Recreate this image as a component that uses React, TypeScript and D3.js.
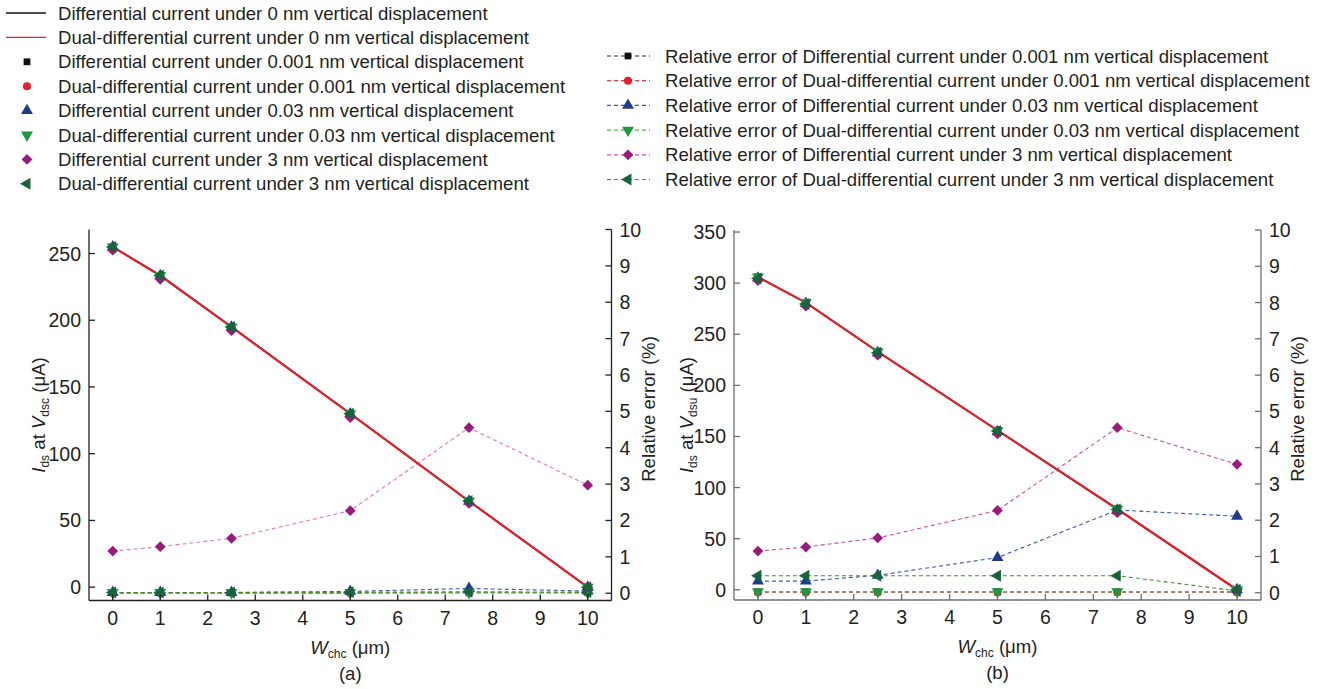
import React from 'react';
import * as d3 from 'd3';

// Channel widths (µm) at which the devices were simulated
const widths = [0, 1, 2.5, 5, 7.5, 10];
const xTickValues = [0, 1, 2, 3, 4, 5, 6, 7, 8, 9, 10];
const errorTicks = [0, 1, 2, 3, 4, 5, 6, 7, 8, 9, 10];
const currentTicksA = [0, 50, 100, 150, 200, 250];
const currentTicksB = [0, 50, 100, 150, 200, 250, 300, 350];

// (a) currents at Vdsc (µA)
const diffA0 = [255, 233.5, 195, 130, 64.5, 0];
const dualA0 = [255, 233.5, 195, 130, 64.5, 0];
const diffA001 = [255, 233.5, 195, 130, 64.5, 0];
const dualA001 = [255, 233.5, 195, 130, 64.5, 0];
const diffA003 = [254.9, 233.4, 194.9, 129.9, 64.4, 0];
const dualA003 = [255, 233.5, 195, 130, 64.5, 0];
const diffA3 = [252.5, 230.7, 192.2, 127.1, 62.7, 0];
const dualA3 = [254.9, 233.5, 195, 130, 64.5, 0];

// (a) relative errors (%)
const errDiffA001 = [0.01, 0.01, 0.01, 0.01, 0.02, 0.02];
const errDualA001 = [0.01, 0.01, 0.01, 0.01, 0.01, 0.01];
const errDiffA003 = [0.02, 0.02, 0.02, 0.05, 0.13, 0.06];
const errDualA003 = [0.02, 0.02, 0.02, 0.02, 0.02, 0.02];
const errDiffA3 = [1.16, 1.28, 1.51, 2.27, 4.55, 2.97];
const errDualA3 = [0.02, 0.02, 0.02, 0.03, 0.04, 0.03];

// (b) currents at Vdsu (µA)
const diffB0 = [306, 281, 233, 156, 79, 0];
const dualB0 = [306, 281, 233, 156, 79, 0];
const diffB001 = [306, 281, 233, 156, 79, 0];
const dualB001 = [306, 281, 233, 156, 79, 0];
const diffB003 = [305, 280.1, 231.9, 154.5, 77.2, 0];
const dualB003 = [306, 281, 233, 156, 79, 0];
const diffB3 = [302.5, 277.5, 229.5, 152.5, 75.4, 0];
const dualB3 = [304.6, 279.7, 231.9, 155.3, 78.6, 0];

// (b) relative errors (%)
const errDiffB001 = [0.02, 0.02, 0.02, 0.02, 0.02, 0.02];
const errDualB001 = [0.02, 0.02, 0.02, 0.02, 0.02, 0.02];
const errDiffB003 = [0.32, 0.32, 0.48, 0.97, 2.28, 2.11];
const errDualB003 = [0.03, 0.03, 0.03, 0.03, 0.03, 0.03];
const errDiffB3 = [1.15, 1.26, 1.51, 2.27, 4.55, 3.54];
const errDualB3 = [0.47, 0.47, 0.47, 0.47, 0.47, 0.05];

const legendCurrents = [
  'Differential current under 0 nm vertical displacement',
  'Dual-differential current under 0 nm vertical displacement',
  'Differential current under 0.001 nm vertical displacement',
  'Dual-differential current under 0.001 nm vertical displacement',
  'Differential current under 0.03 nm vertical displacement',
  'Dual-differential current under 0.03 nm vertical displacement',
  'Differential current under 3 nm vertical displacement',
  'Dual-differential current under 3 nm vertical displacement',
];
const legendErrors = [
  'Relative error of Differential current under 0.001 nm vertical displacement',
  'Relative error of Dual-differential current under 0.001 nm vertical displacement',
  'Relative error of Differential current under 0.03 nm vertical displacement',
  'Relative error of Dual-differential current under 0.03 nm vertical displacement',
  'Relative error of Differential current under 3 nm vertical displacement',
  'Relative error of Dual-differential current under 3 nm vertical displacement',
];

type Kind = 'square' | 'circle' | 'up' | 'down' | 'diamond' | 'left';

const markerKinds: Kind[] = ['square', 'circle', 'up', 'down', 'diamond', 'left'];
const markerFill = ['#111111', '#e5202b', '#1f3c8c', '#1c9a3f', '#9a1a7c', '#17643a'];
const dashStroke = ['#2b2b2b', '#ea3a4c', '#3a5aa6', '#55b84a', '#d24d9d', '#4c8c2c'];
const FONT = '"Liberation Sans", Arial, Helvetica, sans-serif';
const TEXT = '#231f20';
const LABEL_SIZE = 18.6;
const TICK_SIZE = 19.5;

function markerPath(kind: Kind): string {
  switch (kind) {
    case 'square':
      return d3.symbol().type(d3.symbolSquare).size(46)() as string;
    case 'circle':
      return d3.symbol().type(d3.symbolCircle).size(52)() as string;
    case 'diamond':
      return d3.symbol().type(d3.symbolSquare).size(58)() as string;
    default:
      return d3.symbol().type(d3.symbolTriangle).size(62)() as string;
  }
}

function markerRotation(kind: Kind): number {
  if (kind === 'down') return 180;
  if (kind === 'left') return -90;
  if (kind === 'diamond') return 45;
  return 0;
}

function Marker({ kind, x, y, fill }: { kind: Kind; x: number; y: number; fill: string }) {
  return (
    <path
      d={markerPath(kind)}
      transform={`translate(${x},${y}) rotate(${markerRotation(kind)})`}
      fill={fill}
    />
  );
}

interface PanelProps {
  left: number;
  right: number;
  top: number;
  bottom: number;
  currentDomain: [number, number];
  currentTicks: number[];
  axisColor: string;
  lineDiff: number[];
  lineDual: number[];
  currents: number[][];
  errors: number[][];
  subscript: string;
  caption: string;
  leftTitleX: number;
  rightTitleX: number;
  pinkColor: string;
}

function Panel(p: PanelProps) {
  const x = d3.scaleLinear().domain([-0.5, 10.5]).range([p.left, p.right]);
  const yL = d3.scaleLinear().domain(p.currentDomain).range([p.bottom, p.top]);
  const yR = d3.scaleLinear().domain([-0.2, 10]).range([p.bottom, p.top]);
  const lineL = d3
    .line<number>()
    .x((_, i) => x(widths[i]))
    .y((d) => yL(d));
  const lineR = d3
    .line<number>()
    .x((_, i) => x(widths[i]))
    .y((d) => yR(d));
  const tick = 6;
  const midX = (p.left + p.right) / 2;
  const midY = (p.top + p.bottom) / 2;

  return (
    <g fontFamily={FONT} fill={TEXT}>
      {/* relative error curves (dashed) */}
      {p.errors.map((vals, k) => (
        <path
          key={`e${k}`}
          d={lineR(vals) as string}
          fill="none"
          stroke={k === 4 ? p.pinkColor : dashStroke[k]}
          strokeWidth={1.1}
          strokeDasharray="4,3"
        />
      ))}
      {/* 0 nm reference currents */}
      <path d={lineL(p.lineDiff) as string} fill="none" stroke="#111" strokeWidth={1.6} />
      <path d={lineL(p.lineDual) as string} fill="none" stroke="#e3202a" strokeWidth={2.2} />
      {/* error markers */}
      {p.errors.map((vals, k) =>
        vals.map((v, i) => (
          <Marker key={`em${k}-${i}`} kind={markerKinds[k]} x={x(widths[i])} y={yR(v)} fill={markerFill[k]} />
        ))
      )}
      {/* current markers */}
      {p.currents.map((vals, k) =>
        vals.map((v, i) => (
          <Marker key={`cm${k}-${i}`} kind={markerKinds[k]} x={x(widths[i])} y={yL(v)} fill={markerFill[k]} />
        ))
      )}

      {/* axes */}
      <g stroke={p.axisColor} strokeWidth={1.3} fill="none">
        <line x1={p.left} x2={p.left} y1={p.top} y2={p.bottom} />
        <line x1={p.right} x2={p.right} y1={p.top} y2={p.bottom} />
        <line x1={p.left} x2={p.right} y1={p.bottom} y2={p.bottom} />
        {xTickValues.map((t) => (
          <line key={`xt${t}`} x1={x(t)} x2={x(t)} y1={p.bottom} y2={p.bottom - tick} />
        ))}
        {p.currentTicks.map((t) => (
          <line key={`lt${t}`} x1={p.left} x2={p.left + tick} y1={yL(t)} y2={yL(t)} />
        ))}
        {errorTicks.map((t) => (
          <line key={`rt${t}`} x1={p.right} x2={p.right - tick} y1={yR(t)} y2={yR(t)} />
        ))}
      </g>
      <g fontSize={TICK_SIZE}>
        {xTickValues.map((t) => (
          <text key={`xl${t}`} x={x(t)} y={p.bottom + 24} textAnchor="middle">
            {t}
          </text>
        ))}
        {p.currentTicks.map((t) => (
          <text key={`ll${t}`} x={p.left - 8} y={yL(t) + 7} textAnchor="end">
            {t}
          </text>
        ))}
        {errorTicks.map((t) => (
          <text key={`rl${t}`} x={p.right + 8} y={yR(t) + 7} textAnchor="start">
            {t}
          </text>
        ))}
      </g>

      {/* axis titles */}
      <text
        transform={`translate(${p.leftTitleX},${midY}) rotate(-90)`}
        textAnchor="middle"
        fontSize={LABEL_SIZE}
      >
        <tspan fontStyle="italic">I</tspan>
        <tspan fontSize={12} dy={4}>ds</tspan>
        <tspan dy={-4}> at </tspan>
        <tspan fontStyle="italic">V</tspan>
        <tspan fontSize={12} dy={4}>{p.subscript}</tspan>
        <tspan dy={-4}> (μA)</tspan>
      </text>
      <text
        transform={`translate(${p.rightTitleX},${midY - 6}) rotate(-90)`}
        textAnchor="middle"
        fontSize={LABEL_SIZE}
      >
        Relative error (%)
      </text>
      <text x={midX} y={p.bottom + 53} textAnchor="middle" fontSize={LABEL_SIZE}>
        <tspan fontStyle="italic">W</tspan>
        <tspan fontSize={12} dy={4}>chc</tspan>
        <tspan dy={-4}> (μm)</tspan>
      </text>
      <text x={midX} y={p.bottom + 79} textAnchor="middle" fontSize={LABEL_SIZE}>
        {p.caption}
      </text>
    </g>
  );
}

function Legends() {
  const rowL = (i: number) => 13 + i * 24.4;
  const rowR = (i: number) => 56 + i * 24.7;
  return (
    <g fontFamily={FONT} fill={TEXT} fontSize={LABEL_SIZE}>
      {legendCurrents.map((label, i) => (
        <g key={`lc${i}`}>
          {i === 0 && <line x1={6} x2={46} y1={rowL(i)} y2={rowL(i)} stroke="#111" strokeWidth={1.3} />}
          {i === 1 && <line x1={6} x2={46} y1={rowL(i)} y2={rowL(i)} stroke="#e3202a" strokeWidth={1.3} />}
          {i >= 2 && <Marker kind={markerKinds[i - 2]} x={27} y={rowL(i)} fill={markerFill[i - 2]} />}
          <text x={58} y={rowL(i) + 6.5}>
            {label}
          </text>
        </g>
      ))}
      {legendErrors.map((label, i) => (
        <g key={`le${i}`}>
          <line
            x1={607}
            x2={650}
            y1={rowR(i)}
            y2={rowR(i)}
            stroke={dashStroke[i]}
            strokeWidth={1.2}
            strokeDasharray="4,3"
          />
          <Marker kind={markerKinds[i]} x={628} y={rowR(i)} fill={markerFill[i]} />
          <text x={665} y={rowR(i) + 6.5}>
            {label}
          </text>
        </g>
      ))}
    </g>
  );
}

export default function App() {
  return (
    <svg
      width={1324}
      height={689}
      viewBox="0 0 1324 689"
      style={{ position: 'absolute', left: 0, top: 0, background: '#fff' }}
    >
      <rect width={1324} height={689} fill="#fff" />
      <Legends />
      <Panel
        left={89}
        right={611.5}
        top={229.5}
        bottom={600.5}
        currentDomain={[-10, 268]}
        currentTicks={currentTicksA}
        axisColor="#231f20"
        lineDiff={diffA0}
        lineDual={dualA0}
        currents={[diffA001, dualA001, diffA003, dualA003, diffA3, dualA3]}
        errors={[errDiffA001, errDualA001, errDiffA003, errDualA003, errDiffA3, errDualA3]}
        subscript="dsc"
        caption="(a)"
        leftTitleX={45}
        rightTitleX={655}
        pinkColor="#e07ab8"
      />
      <Panel
        left={734}
        right={1261}
        top={230}
        bottom={600}
        currentDomain={[-10, 352]}
        currentTicks={currentTicksB}
        axisColor="#6d6e71"
        lineDiff={diffB0}
        lineDual={dualB0}
        currents={[diffB001, dualB001, diffB003, dualB003, diffB3, dualB3]}
        errors={[errDiffB001, errDualB001, errDiffB003, errDualB003, errDiffB3, errDualB3]}
        subscript="dsu"
        caption="(b)"
        leftTitleX={693}
        rightTitleX={1304}
        pinkColor="#d24d9d"
      />
    </svg>
  );
}
